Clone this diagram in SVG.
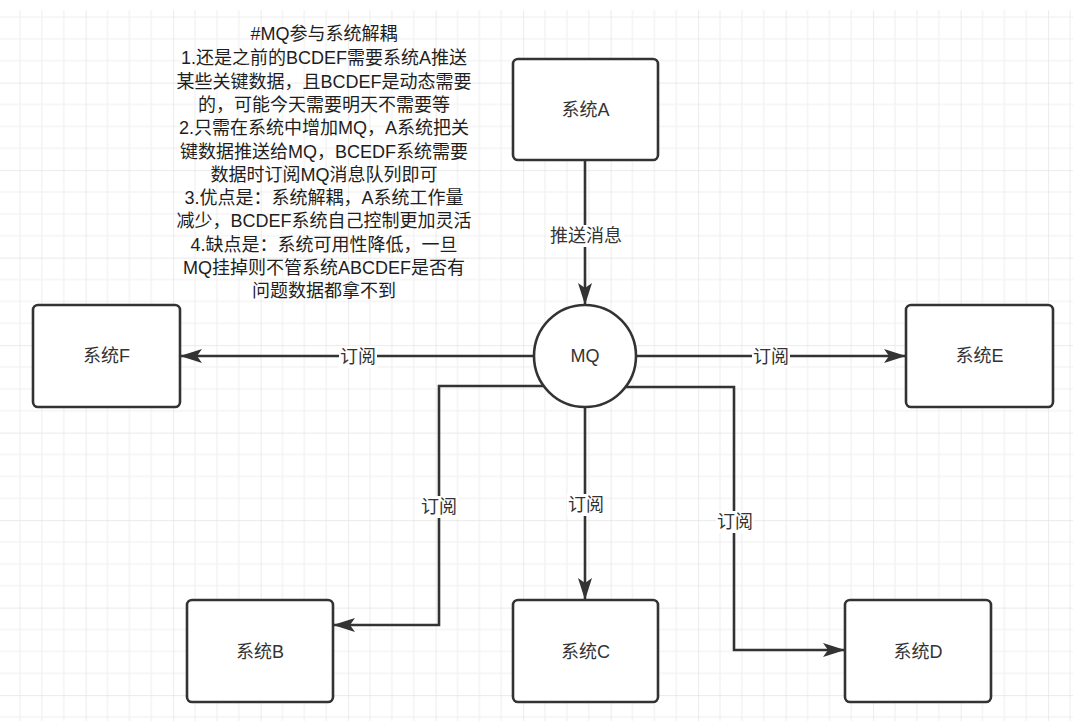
<svg xmlns="http://www.w3.org/2000/svg" width="1073" height="721" viewBox="0 0 1073 721">
  <defs>
    <pattern id="grid" patternUnits="userSpaceOnUse" x="-1.875" y="-4.875" width="87.5" height="87.5">
      <path d="M21.875,0 V87.5 M43.75,0 V87.5 M65.625,0 V87.5 M0,21.875 H87.5 M0,43.75 H87.5 M0,65.625 H87.5" stroke="#f0f0f0" stroke-width="1.2" fill="none"/>
      <path d="M0,0 V87.5 M0,0 H87.5" stroke="#e4e4e4" stroke-width="1.4" fill="none"/>
    </pattern>
    <marker id="arrow" markerUnits="userSpaceOnUse" markerWidth="24" markerHeight="16" viewBox="0 0 24 16" refX="22" refY="8" orient="auto">
      <path d="M0,1 L22,8 L0,15 L5,8 Z" fill="#333333"/>
    </marker>
    <style>
      .box { fill: #ffffff; stroke: #333333; stroke-width: 2.6; }
      .lbl { font-family: "Liberation Sans", "Noto Sans CJK SC", sans-serif; font-size: 18px; fill: #333333; text-anchor: middle; dominant-baseline: central; }
      .note { font-family: "Liberation Sans", "Noto Sans CJK SC", sans-serif; font-size: 18px; fill: #1e1e1e; text-anchor: middle; dominant-baseline: central; }
      .edge { fill: none; stroke: #333333; stroke-width: 2.6; marker-end: url(#arrow); }
      .bg { fill: #ffffff; }
    </style>
  </defs>

  <rect x="0" y="0" width="1073" height="721" fill="#ffffff"/>
  <rect x="0" y="10" width="1073" height="711" fill="url(#grid)"/>

  <g id="note">
    <text class="note" x="324" y="34">#MQ参与系统解耦</text>
    <text class="note" x="324" y="58.3">1.还是之前的BCDEF需要系统A推送</text>
    <text class="note" x="324" y="81.6">某些关键数据，且BCDEF是动态需要</text>
    <text class="note" x="324" y="104.9">的，可能今天需要明天不需要等</text>
    <text class="note" x="324" y="128.2">2.只需在系统中增加MQ，A系统把关</text>
    <text class="note" x="324" y="151.5">键数据推送给MQ，BCEDF系统需要</text>
    <text class="note" x="324" y="174.8">数据时订阅MQ消息队列即可</text>
    <text class="note" x="324" y="198.1">3.优点是：系统解耦，A系统工作量</text>
    <text class="note" x="324" y="221.4">减少，BCDEF系统自己控制更加灵活</text>
    <text class="note" x="324" y="244.7">4.缺点是：系统可用性降低，一旦</text>
    <text class="note" x="324" y="268">MQ挂掉则不管系统ABCDEF是否有</text>
    <text class="note" x="324" y="291.3">问题数据都拿不到</text>
  </g>

  <g id="connectors">
    <path class="edge" d="M585,160 V305"/>
    <path class="edge" d="M534,356 H180"/>
    <path class="edge" d="M636,356 H906"/>
    <path class="edge" d="M545,386 H439 V625 H333"/>
    <path class="edge" d="M585,407 V600"/>
    <path class="edge" d="M626,387 H734 V650 H845"/>
    <rect class="bg" x="548" y="225" width="76" height="22"/>
    <text class="lbl" x="586" y="236">推送消息</text>
    <rect class="bg" x="339" y="346" width="38" height="22"/>
    <text class="lbl" x="358" y="357">订阅</text>
    <rect class="bg" x="752" y="346" width="38" height="22"/>
    <text class="lbl" x="771" y="357">订阅</text>
    <rect class="bg" x="420" y="496" width="38" height="22"/>
    <text class="lbl" x="439" y="507">订阅</text>
    <rect class="bg" x="567" y="494" width="38" height="22"/>
    <text class="lbl" x="586" y="505">订阅</text>
    <rect class="bg" x="716" y="511" width="38" height="22"/>
    <text class="lbl" x="735" y="522">订阅</text>
  </g>

  <g id="nodeA">
    <rect class="box" x="513" y="59" width="145" height="101" rx="5"/>
    <text class="lbl" x="585.5" y="110">系统A</text>
  </g>
  <g id="nodeMQ">
    <circle class="box" cx="585" cy="356" r="51"/>
    <text class="lbl" x="585" y="356">MQ</text>
  </g>
  <g id="nodeF">
    <rect class="box" x="33" y="305" width="147" height="102" rx="5"/>
    <text class="lbl" x="106.5" y="356">系统F</text>
  </g>
  <g id="nodeE">
    <rect class="box" x="906" y="305" width="147" height="102" rx="5"/>
    <text class="lbl" x="979.5" y="356">系统E</text>
  </g>
  <g id="nodeB">
    <rect class="box" x="187" y="600" width="146" height="102" rx="5"/>
    <text class="lbl" x="260" y="652">系统B</text>
  </g>
  <g id="nodeC">
    <rect class="box" x="513" y="600" width="145" height="102" rx="5"/>
    <text class="lbl" x="585.5" y="652">系统C</text>
  </g>
  <g id="nodeD">
    <rect class="box" x="845" y="600" width="146" height="102" rx="5"/>
    <text class="lbl" x="918" y="652">系统D</text>
  </g>
</svg>
